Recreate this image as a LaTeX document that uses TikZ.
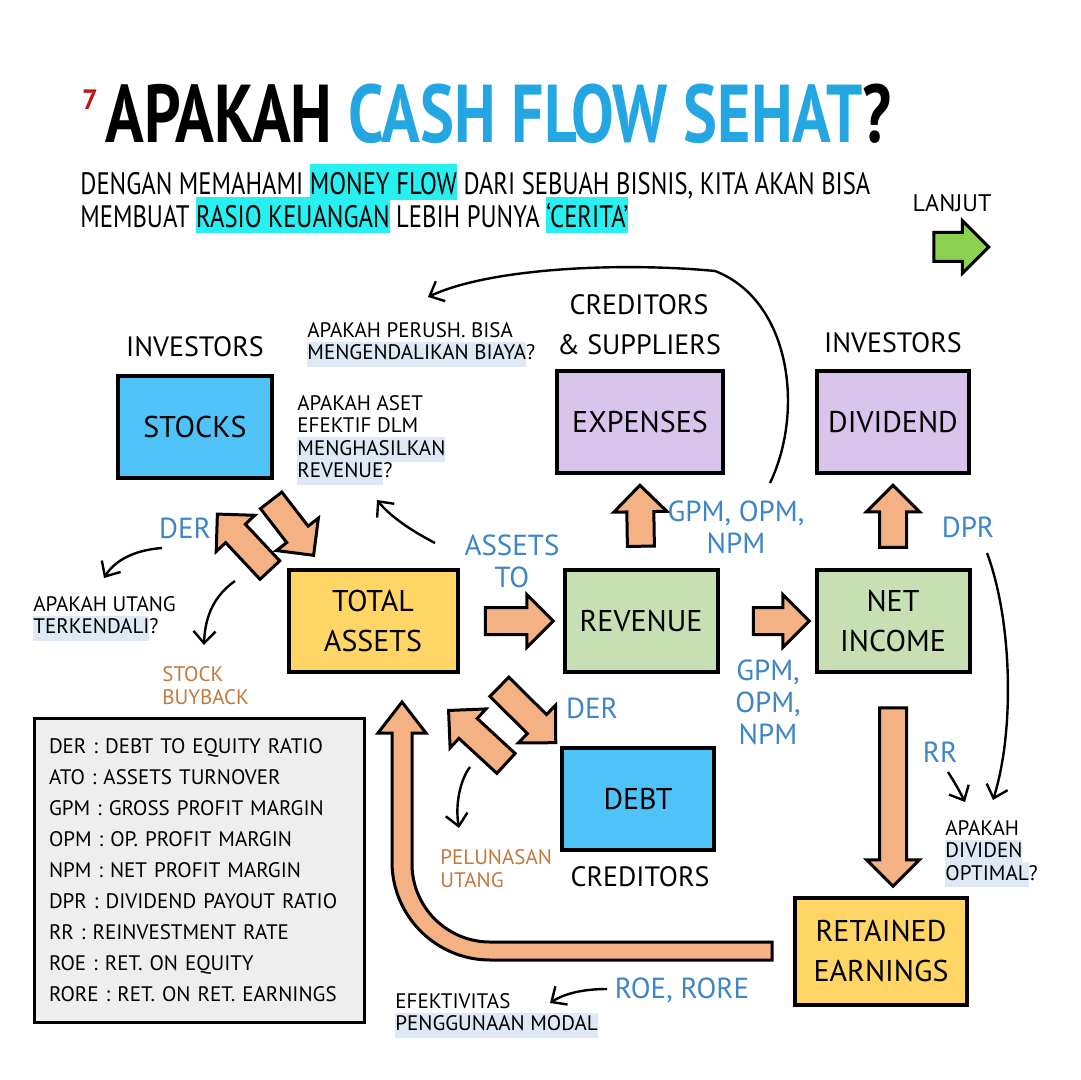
\documentclass[tikz,border=0pt]{standalone}
\usepackage{fontspec}
\setmainfont{PT Sans}
\newfontfamily\titlefont{PT Sans}[FakeStretch=0.78]
\newfontfamily\subfont{PT Sans}[FakeStretch=0.795]
\usetikzlibrary{shapes.arrows,arrows.meta,calc}
\definecolor{titleblue}{RGB}{35,166,226}
\definecolor{stockblue}{RGB}{79,195,247}
\definecolor{costpurple}{RGB}{217,196,236}
\definecolor{assetyellow}{RGB}{255,214,102}
\definecolor{incomegreen}{RGB}{198,224,180}
\definecolor{arrowfill}{RGB}{244,177,131}
\definecolor{ratioblue}{RGB}{61,133,198}
\definecolor{actbrown}{RGB}{194,122,60}
\definecolor{hlcyan}{RGB}{40,240,240}
\definecolor{hlblue}{RGB}{222,233,245}
\definecolor{legendgray}{RGB}{238,238,238}
\definecolor{nextgreen}{RGB}{140,208,80}
\definecolor{sevenred}{RGB}{190,20,20}
\setlength{\fboxsep}{0pt}
\newcommand{\cyanmark}[1]{\smash{\colorbox{hlcyan}{\rule[-3pt]{0pt}{18pt}#1}}}
\newcommand{\notemark}[1]{\smash{\colorbox{hlblue}{\rule[-3.5pt]{0pt}{12.5pt}#1}}}
\begin{document}
\begin{tikzpicture}[x=0.5pt, y=-0.5pt,
  box/.style={draw, line width=2pt, minimum height=51pt, align=center, font=\fontsize{15}{20}\selectfont},
  who/.style={align=center, font=\fontsize{14}{20}\selectfont},
  ratio/.style={align=center, text=ratioblue, font=\fontsize{14.5}{16}\selectfont},
  note/.style={anchor=north west, inner sep=0pt, align=left, font=\fontsize{10.5}{11.2}\selectfont},
  act/.style={anchor=north west, inner sep=0pt, align=left, text=actbrown, font=\fontsize{10.5}{11.5}\selectfont},
  hint/.style={line width=1.2pt, -{Straight Barb[length=6pt, width=11pt]}},
  barrow/.style={to path={let \p1=(\tikztostart), \p2=(\tikztotarget),
      \n1={atan2(\y2-\y1,\x2-\x1)}, \n2={veclen(\x2-\x1,\y2-\y1)} in
      node[single arrow, draw=black, fill=arrowfill, line width=1.5pt, inner xsep=0pt, inner ysep=6pt,
        single arrow head extend=6.5pt, minimum height=\n2, rotate=\n1] at ($(\p1)!.5!(\p2)$) {}}}]
\useasboundingbox (0,0) rectangle (1080,1080);
\fill[white] (0,0) rectangle (1080,1080);

% title
\node[text=sevenred, font=\bfseries\fontsize{14}{14}\selectfont] (seven) at (90,100) {7};
\node[anchor=base west, inner sep=0pt, font=\titlefont\bfseries\fontsize{41}{41}\selectfont] (title) at (105,143) {APAKAH \textcolor{titleblue}{CASH FLOW SEHAT}?};
\node[anchor=north west, inner sep=0pt, align=left, font=\subfont\fontsize{15.5}{16.5}\selectfont] (intro) at (80,172)
  {DENGAN MEMAHAMI \cyanmark{MONEY FLOW} DARI SEBUAH BISNIS, KITA AKAN BISA\\
   MEMBUAT \cyanmark{RASIO KEUANGAN} LEBIH PUNYA \cyanmark{‘CERITA’}};
\node[font=\fontsize{12}{12}\selectfont] (next) at (952,203) {LANJUT};
\node[single arrow, draw, line width=1.5pt, fill=nextgreen, inner xsep=0pt, inner ysep=6.5pt,
  single arrow head extend=6pt, minimum height=27.5pt] (nextarrow) at (954,247) {};

% who
\node[who] (inv1) at (195,347) {INVESTORS};
\node[who] (cred1) at (639,325) {CREDITORS\\\& SUPPLIERS};
\node[who] (inv2) at (893,343) {INVESTORS};
\node[who] (cred2) at (640,877) {CREDITORS};

% boxes
\node[box, fill=stockblue, minimum width=77pt] (stocks) at (195,427) {STOCKS};
\node[box, fill=costpurple, minimum width=83pt] (exp) at (640,422) {EXPENSES};
\node[box, fill=costpurple, minimum width=76pt] (div) at (893,422) {DIVIDEND};
\node[box, fill=assetyellow, minimum width=84.5pt] (ta) at (373,621) {TOTAL\\ASSETS};
\node[box, fill=incomegreen, minimum width=76.5pt] (rev) at (641,621) {REVENUE};
\node[box, fill=incomegreen, minimum width=76.5pt] (ni) at (893,621) {NET\\INCOME};
\node[box, fill=stockblue, minimum width=76pt] (debt) at (638,799) {DEBT};
\node[box, fill=assetyellow, minimum width=86pt, minimum height=53.5pt] (re) at (881,951) {RETAINED\\EARNINGS};

\node[draw, fill=legendgray, line width=1.5pt, text width=150pt, inner xsep=7.5pt, minimum height=152pt,
  align=left, font=\fontsize{10.5}{15.5}\selectfont] (legend) at (199,870)
  {DER : DEBT TO EQUITY RATIO\\ATO : ASSETS TURNOVER\\GPM : GROSS PROFIT MARGIN\\OPM : OP. PROFIT MARGIN\\
   NPM : NET PROFIT MARGIN\\DPR : DIVIDEND PAYOUT RATIO\\RR : REINVESTMENT RATE\\ROE : RET. ON EQUITY\\
   RORE : RET. ON RET. EARNINGS};

% money flow
\draw[barrow] ($(stocks.south east)+(-7,15)$) to ($(ta.north west)+(23,-18)$);
\draw[barrow] ($(ta.north west)+(-12,7)$) to ($(stocks.south east)+(-52,39)$);
\draw[barrow] ($(ta.east)+(19,0)$) to ($(rev.west)+(-16,0)$);
\draw[barrow] ($(rev.east)+(27,0)$) to ($(ni.west)+(-12,0)$);
\draw[barrow] ($(rev.north)+(0,-15)$) to ($(exp.south)+(0,17)$);
\draw[barrow] ($(ni.north)+(0,-14)$) to ($(div.south)+(0,17)$);
\draw[barrow] ($(ta.south east)+(35,8)$) to ($(debt.north west)+(-9,-8)$);
\draw[barrow] ($(debt.north west)+(-49,22)$) to ($(ta.south east)+(-6,41)$);
\draw[barrow] ($(ni.south)+(0,27)$) to ($(re.north)+(12,-16)$);
\draw[line width=1.5pt, fill=arrowfill] (772,942) -- (490,942) .. controls (447,942) and (412,907) .. (412,864)
  -- (412,733) -- (426,733) -- (402,702) -- (378,733) -- (392,733) -- (392,862)
  .. controls (392,916) and (436,960) .. (490,960) -- (772,960) -- cycle;

% ratios
\node[ratio] (derA) at (185,528) {DER};
\node[ratio] (ato) at (512,561) {ASSETS\\TO};
\node[ratio] (gpmA) at (736,527) {GPM, OPM,\\NPM};
\node[ratio] (dpr) at (968,527) {DPR};
\node[ratio] (gpmB) at (768,702) {GPM,\\OPM,\\NPM};
\node[ratio] (derB) at (592,708) {DER};
\node[ratio] (rr) at (940,752) {RR};
\node[ratio] (roe) at (682,990) {ROE, RORE};

% questions
\node[note] (qbiaya) at (307,322) {APAKAH PERUSH. BISA\\\notemark{MENGENDALIKAN BIAYA}?};
\node[note] (qaset) at (297,395) {APAKAH ASET\\EFEKTIF DLM\\\notemark{MENGHASILKAN}\\\notemark{REVENUE}?};
\node[note] (qutang) at (33,596) {APAKAH UTANG\\\notemark{TERKENDALI}?};
\node[note] (qdiv) at (945,820) {APAKAH\\\notemark{DIVIDEN}\\\notemark{OPTIMAL}?};
\node[note] (qmodal) at (395,993) {EFEKTIVITAS\\\notemark{PENGGUNAAN MODAL}};
\node[act] (buyback) at (162,666) {STOCK\\BUYBACK};
\node[act] (lunas) at (440,849) {PELUNASAN\\UTANG};

\coordinate (costfrom) at (770,483);
\coordinate (costto) at (428,297);
\coordinate (atofrom) at (435,543);
\coordinate (atoto) at (377,500);
\coordinate (derfrom) at (162,548);
\coordinate (derto) at (104,578);
\coordinate (buyfrom) at (235,581);
\coordinate (buyto) at (204,645);
\coordinate (lunasfrom) at (470,767);
\coordinate (lunasto) at (459,828);
\coordinate (dprfrom) at (987,553);
\coordinate (dprto) at (993,800);
\coordinate (rrfrom) at (948,772);
\coordinate (rrto) at (965,802);
\coordinate (roefrom) at (607,989);
\coordinate (roeto) at (550,1003);
\draw[hint] (costfrom) .. controls (805,410) and (790,300) .. (715,271) .. controls (620,262) and (490,268) .. (costto);
\draw[hint] (atofrom) .. controls (410,530) and (390,516) .. (atoto);
\draw[hint] (derfrom) .. controls (135,550) and (115,560) .. (derto);
\draw[hint] (buyfrom) .. controls (215,595) and (205,615) .. (buyto);
\draw[hint] (lunasfrom) .. controls (460,780) and (455,805) .. (lunasto);
\draw[hint] (dprfrom) .. controls (1012,620) and (1015,730) .. (dprto);
\draw[hint] (rrfrom) .. controls (955,783) and (960,792) .. (rrto);
\draw[hint] (roefrom) .. controls (585,989) and (565,993) .. (roeto);
\end{tikzpicture}
\end{document}
